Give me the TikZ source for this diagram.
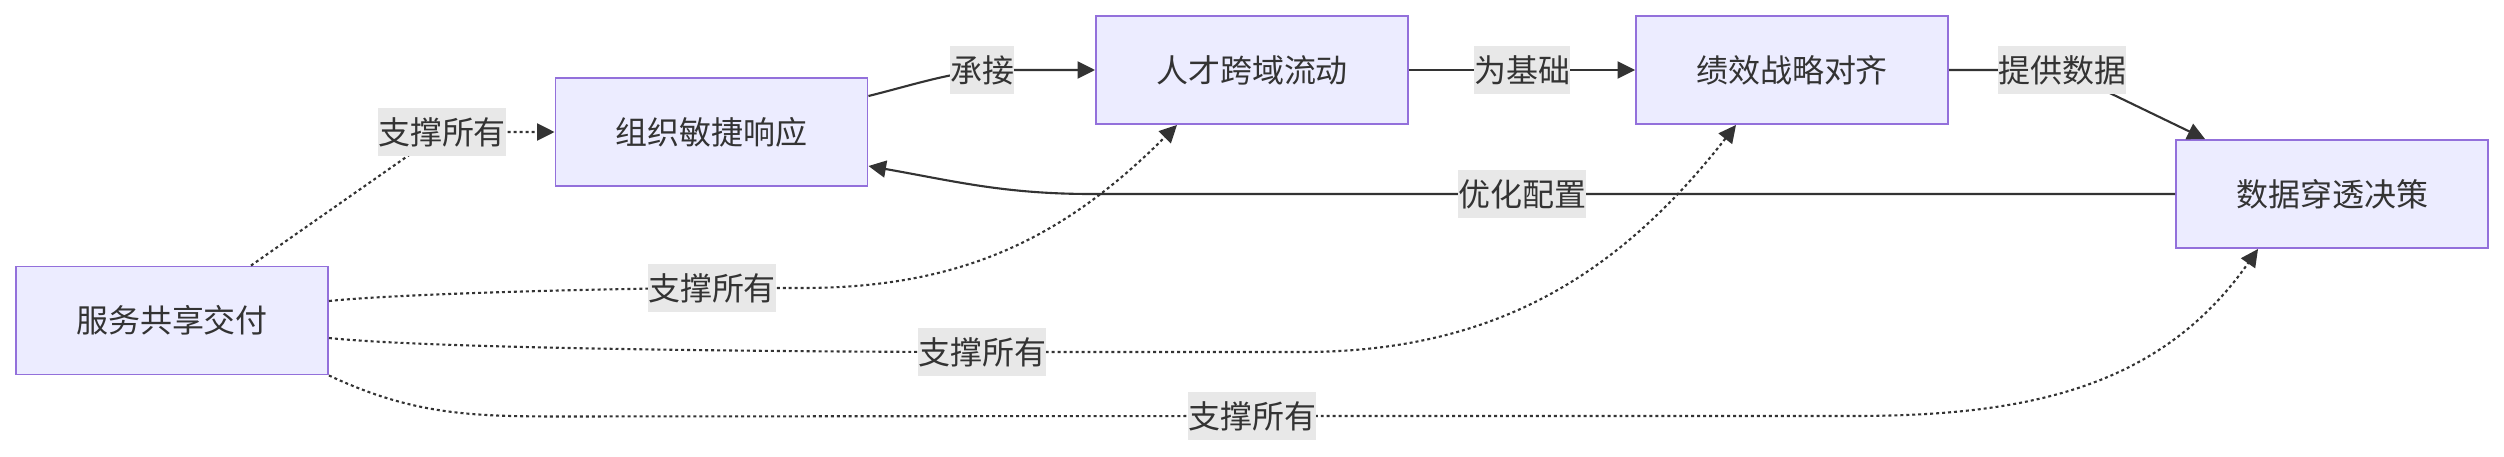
\documentclass[tikz,border=0pt]{standalone}
\usepackage{fontspec}
\newfontfamily\cjk{Noto Sans CJK SC}
\usetikzlibrary{arrows.meta}
\definecolor{boxfill}{HTML}{ECECFF}
\definecolor{boxline}{HTML}{9370DB}
\definecolor{ink}{HTML}{333333}
\definecolor{lblgray}{HTML}{E8E8E8}

\begin{document}
\begin{tikzpicture}[
      font=\cjk\fontsize{9.1}{11}\selectfont,
      box/.style={draw=boxline, fill=boxfill, line width=0.55pt, minimum width=3.12cm, minimum height=1.08cm, text=ink},
      lbl/.style={fill=lblgray, inner xsep=0pt, inner ysep=0pt, minimum height=0.48cm, text=ink},
      arrow/.style={-{Triangle[length=1.75mm, width=1.7mm]}, draw=ink, line width=0.6pt},
      dotarrow/.style={arrow, dash pattern=on 0.85pt off 0.85pt}
    ]
    \useasboundingbox (0,0) rectangle (25.04,-4.56);

    \node[box] (svc) at (1.72,-3.205) {服务共享交付};
    \node[box] (org) at (7.115,-1.32) {组织敏捷响应};
    \node[box] (talent) at (12.52,-0.70) {人才跨域流动};
    \node[box] (perf) at (17.92,-0.70) {绩效战略对齐};
    \node[box] (data) at (23.32,-1.94) {数据穿透决策};

    \coordinate (lcarry) at (9.82,-0.70);
    \coordinate (lbase) at (15.22,-0.70);
    \coordinate (lprov) at (20.62,-0.70);
    \coordinate (lopt) at (15.22,-1.94);
    \coordinate (lsorg) at (4.42,-1.32);
    \coordinate (lstal) at (7.12,-2.88);
    \coordinate (lsperf) at (9.82,-3.52);
    \coordinate (lsdata) at (12.52,-4.16);

    \draw[arrow] ([yshift=3.6mm]org.east) to[out=14,in=188] (lcarry) -- (talent);
    \draw[arrow] (talent) -- (lbase) -- (perf);
    \draw[arrow] (perf) -- (lprov) -- ([xshift=-12.7mm]data.north);
    \draw[arrow] (data) -- (lopt) -- +(-4.3,0) to[out=180,in=-10] ([yshift=-3.4mm]org.east);

    \draw[dotarrow] ([xshift=7.9mm]svc.north) -- (lsorg) -- (org);
    \draw[dotarrow] ([yshift=1.95mm]svc.east) to[out=6,in=180,looseness=0.5] (lstal)
      -- +(0.9,0) to[out=0,in=-135] ([xshift=-7.5mm]talent.south);
    \draw[dotarrow] ([yshift=-1.75mm]svc.east) to[out=-6,in=180,looseness=0.45] (lsperf)
      -- +(3.2,0) to[out=0,in=-128] ([xshift=-5.6mm]perf.south);
    \draw[dotarrow] (svc.south east) to[out=-25,in=180] +(2.3,-0.41) -- (lsdata)
      -- +(6.0,0) to[out=0,in=-125] ([xshift=-7.4mm]data.south);

    \node[lbl] at (lcarry) {承接};
    \node[lbl] at (lbase) {为基础};
    \node[lbl] at (lprov) {提供数据};
    \node[lbl] at (lopt) {优化配置};
    \node[lbl] at (lsorg) {支撑所有};
    \node[lbl] at (lstal) {支撑所有};
    \node[lbl] at (lsperf) {支撑所有};
    \node[lbl] at (lsdata) {支撑所有};
  \end{tikzpicture}
\end{document}
